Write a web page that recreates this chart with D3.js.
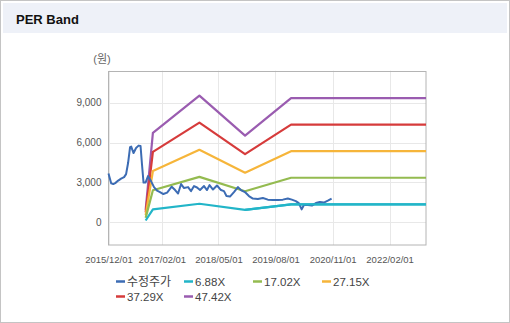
<!DOCTYPE html>
<html><head><meta charset="utf-8">
<script src="https://cdn.jsdelivr.net/npm/d3@7"></script>
<style>
html,body{margin:0;padding:0;background:#fff;}
svg{display:block;font-family:"Liberation Sans","Noto Sans CJK KR",sans-serif;}
</style></head>
<body>
<svg id="c" width="510" height="323"></svg>
<script>
// ---- data ----
const priceDates = ["2015-12-01","2015-12-23","2016-01-08","2016-01-24","2016-02-17","2016-03-11","2016-04-04","2016-04-20","2016-05-06","2016-05-22","2016-05-31","2016-06-19","2016-07-09","2016-07-29","2016-08-14","2016-08-26","2016-09-07","2016-09-23","2016-10-13","2016-11-06","2016-11-30","2016-12-24","2017-01-17","2017-02-13","2017-03-15","2017-04-21","2017-05-18","2017-06-11","2017-07-05","2017-07-29","2017-08-30","2017-09-23","2017-10-17","2017-11-10","2017-12-04","2018-01-05","2018-01-29","2018-02-18","2018-03-18","2018-04-19","2018-05-21","2018-06-14","2018-07-04","2018-08-01","2018-09-02","2018-10-04","2018-10-28","2018-11-29","2018-12-31","2019-02-01","2019-03-13","2019-04-22","2019-06-01","2019-07-11","2019-08-20","2019-09-29","2019-11-08","2019-12-10","2020-01-11","2020-02-04","2020-02-27","2020-03-16","2020-04-17","2020-05-19","2020-06-20","2020-07-22","2020-08-23","2020-09-24","2020-10-24"];
const priceValues = [3680,2930,2880,2950,3140,3290,3400,3630,4460,5660,5700,5210,5590,5770,5740,4310,2990,2990,3480,3100,2650,2390,2280,2130,2240,2680,2430,2170,2880,2580,2650,2350,2730,2620,2430,2730,2430,2800,2470,2770,2430,2350,1980,1940,2280,2650,2430,2280,1980,1790,1750,1830,1710,1680,1680,1710,1800,1710,1600,1450,980,1300,1300,1260,1450,1530,1490,1640,1790];

const bandDates = ["2016-09-24","2016-11-21","2017-11-29","2018-11-30","2019-12-04","2022-11-20"];
const band688  = [140, 977, 1400, 946, 1360, 1360];
const band1702 = [340, 2417, 3421, 2340, 3353, 3353];
const band2715 = [543, 3855, 5457, 3733, 5349, 5349];
const band3729 = [746, 5295, 7495, 5127, 7346, 7346];
const band4742 = [948, 6734, 9531, 6520, 9342, 9342];

const seriesNames = ["수정주가","6.88X","17.02X","27.15X","37.29X","47.42X"];
const seriesColors = ["#3c6cb4","#22b5c8","#94bb50","#f6b53a","#d63b3b","#9a5cb0"];

const xTickLabels = ["2015/12/01","2017/02/01","2018/05/01","2019/08/01","2020/11/01","2022/02/01"];
const yTicks = [0,3000,6000,9000];
const xDomain = ["2015-12-01","2022-11-20"];
const yDomain = [-1700, 11400];

// ---- drawing ----
const parse = d3.timeParse("%Y-%m-%d");
const svg = d3.select("#c");

// outer frame + header
svg.append("rect").attr("x",0.5).attr("y",0.5).attr("width",509).attr("height",322)
  .attr("fill","#fff").attr("stroke","#c4c4c4");
svg.append("rect").attr("x",3).attr("y",3).attr("width",504).attr("height",30).attr("fill","#eef1f8");
svg.append("text").attr("x",16).attr("y",24).attr("font-size",13).attr("font-weight","bold")
  .attr("fill","#111").text("PER Band");

const L=108.5, R=426, T=70.7, B=245;
const x = d3.scaleTime().domain(xDomain.map(parse)).range([L,R]);
const y = d3.scaleLinear().domain(yDomain).range([B,T]);

// gridlines
const xTickDates = xTickLabels.map(s=>d3.timeParse("%Y/%m/%d")(s));
svg.append("g").selectAll("line").data(xTickDates).join("line")
  .attr("x1",d=>Math.round(x(d))+0.5).attr("x2",d=>Math.round(x(d))+0.5)
  .attr("y1",T).attr("y2",B).attr("stroke","#e8e8e8");
svg.append("g").selectAll("line").data(yTicks).join("line")
  .attr("x1",L).attr("x2",R).attr("y1",d=>Math.round(y(d))+0.5).attr("y2",d=>Math.round(y(d))+0.5)
  .attr("stroke","#e8e8e8");

// frame of plot
svg.append("rect").attr("x",L).attr("y",Math.round(T)+0.5).attr("width",R-L).attr("height",B-Math.round(T)-0.5)
  .attr("fill","none").attr("stroke","#b4b4b4");

// axes labels
const xAxis = d3.axisBottom(x).tickValues(xTickDates).tickFormat(d3.timeFormat("%Y/%m/%d")).tickSize(0).tickPadding(11);
const gx = svg.append("g").attr("transform",`translate(0,${B})`).call(xAxis);
gx.select(".domain").remove();
gx.selectAll("text").attr("font-size",9.5).attr("fill","#555").attr("font-family","Liberation Sans, sans-serif");

const yAxis = d3.axisLeft(y).tickValues(yTicks).tickFormat(d3.format(",")).tickSize(0).tickPadding(7);
const gy = svg.append("g").attr("transform",`translate(${L},0)`).call(yAxis);
gy.select(".domain").remove();
gy.selectAll("text").attr("font-size",10).attr("fill","#555").attr("font-family","Liberation Sans, sans-serif");

svg.append("text").attr("x",102).attr("y",63).attr("text-anchor","middle").attr("font-size",11)
  .attr("fill","#666").text("(원)");

// lines
const line = d3.line().x(d=>x(d[0])).y(d=>y(d[1]));
const bands = [band688, band1702, band2715, band3729, band4742];
const plot = svg.append("g");
bands.slice().reverse().forEach((vals,ri)=>{
  const i = bands.length-1-ri;
  plot.append("path").datum(bandDates.map((d,k)=>[parse(d),vals[k]]))
    .attr("d",line).attr("fill","none").attr("stroke",seriesColors[i+1]).attr("stroke-width",2.2)
    .attr("stroke-linejoin","round");
});
plot.append("path").datum(priceDates.map((d,k)=>[parse(d),priceValues[k]]))
  .attr("d",line).attr("fill","none").attr("stroke",seriesColors[0]).attr("stroke-width",2)
  .attr("stroke-linejoin","round");
// keep teal above price as in reference overlap region
plot.append("path").datum(bandDates.map((d,k)=>[parse(d),band688[k]]).slice(3))
  .attr("d",line).attr("fill","none").attr("stroke",seriesColors[1]).attr("stroke-width",2.2);

// legend
const legPos = [[116,281.5],[184,281.5],[253,281.5],[322,281.5],[116,296.5],[184,296.5]];
const lg = svg.append("g");
seriesNames.forEach((n,i)=>{
  const [lx,ly]=legPos[i];
  lg.append("line").attr("x1",lx).attr("x2",lx+9).attr("y1",ly).attr("y2",ly)
    .attr("stroke",seriesColors[i]).attr("stroke-width",2.5);
  lg.append("text").attr("x",lx+11).attr("y",ly).attr("dy","0.36em")
    .attr("font-size",i===0?12:11.5).attr("fill","#444").text(n);
});
</script>
</body></html>
